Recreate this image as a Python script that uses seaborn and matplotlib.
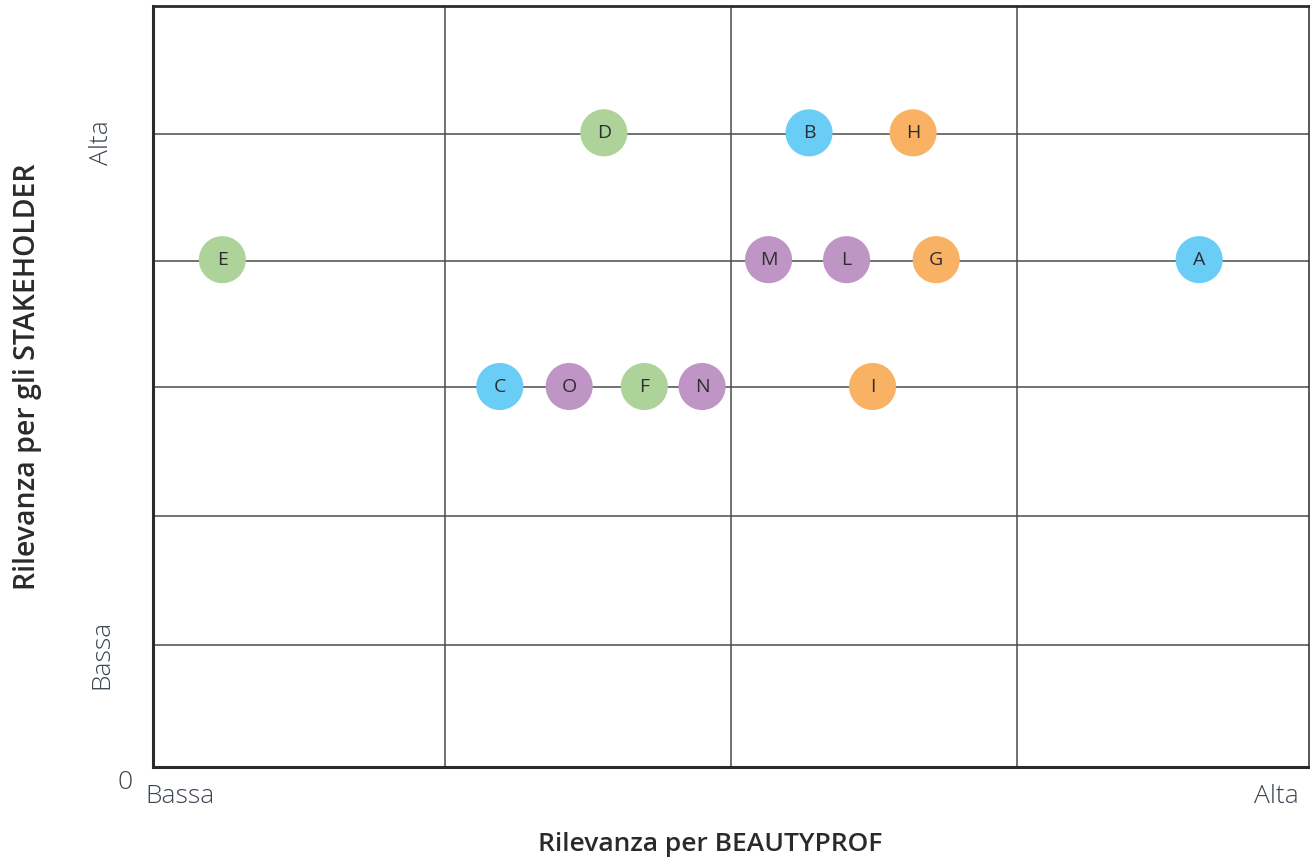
import matplotlib
matplotlib.use("Agg")
import matplotlib.pyplot as plt
import seaborn as sns
import pandas as pd

# ---- data ----
labels = ["A", "B", "C", "D", "E", "F", "G", "H", "I", "L", "M", "N", "O"]
x_vals = [3.62, 2.27, 1.20, 1.56, 0.24, 1.70, 2.71, 2.63, 2.49, 2.40, 2.13, 1.90, 1.44]
y_vals = [4.0, 5.0, 3.0, 5.0, 4.0, 3.0, 4.0, 5.0, 3.0, 4.0, 4.0, 3.0, 3.0]
groups = ["blu", "blu", "blu", "verde", "verde", "verde", "arancio", "arancio",
          "arancio", "viola", "viola", "viola", "viola"]
palette = {"blu": "#69CDF5", "verde": "#AED39A", "arancio": "#F9B264", "viola": "#BF95C5"}
grid_x = [1.01, 2.0, 2.99]
grid_y = [0.96, 1.98, 3.0, 3.99, 4.99]
x_tick_pos = [0.093, 3.886]
y_tick_pos = [0.89, 4.92]
x_tick_labels = ["Bassa", "Alta"]
y_tick_labels = ["Bassa", "Alta"]
x_title = "Rilevanza per BEAUTYPROF"
y_title = "Rilevanza per gli STAKEHOLDER"

df = pd.DataFrame({"label": labels, "x": x_vals, "y": y_vals, "group": groups})

sns.set_theme(style="white")
plt.rcParams["font.family"] = ["Open Sans", "DejaVu Sans"]

fig = plt.figure(figsize=(13.1, 8.6), dpi=100)
ax = fig.add_axes([153 / 1310, 1 - 767 / 860, (1309 - 153) / 1310, (767 - 6) / 860])

# grid
for gx in grid_x:
    ax.axvline(gx, color="#4a4a4a", lw=1.1, zorder=1)
for gy in grid_y:
    ax.axhline(gy, color="#4a4a4a", lw=1.1, zorder=1)

sns.scatterplot(data=df, x="x", y="y", hue="group", palette=palette, s=1150,
                edgecolor="none", linewidth=0, legend=False, ax=ax, zorder=3)

for _, r in df.iterrows():
    ax.text(r["x"], r["y"], r["label"], ha="center", va="center", fontsize=14,
            color="#2e2e2e", zorder=4)

ax.set_xlim(0, 4)
ax.set_ylim(0, 6)

tick_font = dict(fontsize=19, color="#3a4550", fontweight="light")
ax.set_xticks(x_tick_pos)
ax.set_xticklabels(x_tick_labels, **tick_font)
ax.set_yticks(y_tick_pos)
ax.set_yticklabels(y_tick_labels, rotation=90, va="center", **tick_font)
ax.tick_params(axis="x", length=0, pad=12)
ax.tick_params(axis="y", length=0, pad=28)

ax.annotate("0", xy=(0, 0), xycoords="data", xytext=(-20, -11), textcoords="offset points",
            ha="center", va="center", **tick_font)

label_font = dict(fontweight="semibold", fontstretch="normal", color="#2a2a2a",
                  family=["Open Sans", "DejaVu Sans"])
ax.set_xlabel(x_title, fontsize=19, **label_font)
ax.xaxis.set_label_coords(0.482, -0.086)
ax.set_ylabel(y_title, fontsize=20.5, **label_font)
ax.yaxis.set_label_coords(-0.096, 0.513)

for side, lw in [("left", 2.2), ("bottom", 2.2), ("top", 2.0), ("right", 1.1)]:
    ax.spines[side].set_visible(True)
    ax.spines[side].set_color("#2b2b2b")
    ax.spines[side].set_linewidth(lw)
    ax.spines[side].set_zorder(5)

fig.savefig("out.png", dpi=100)
